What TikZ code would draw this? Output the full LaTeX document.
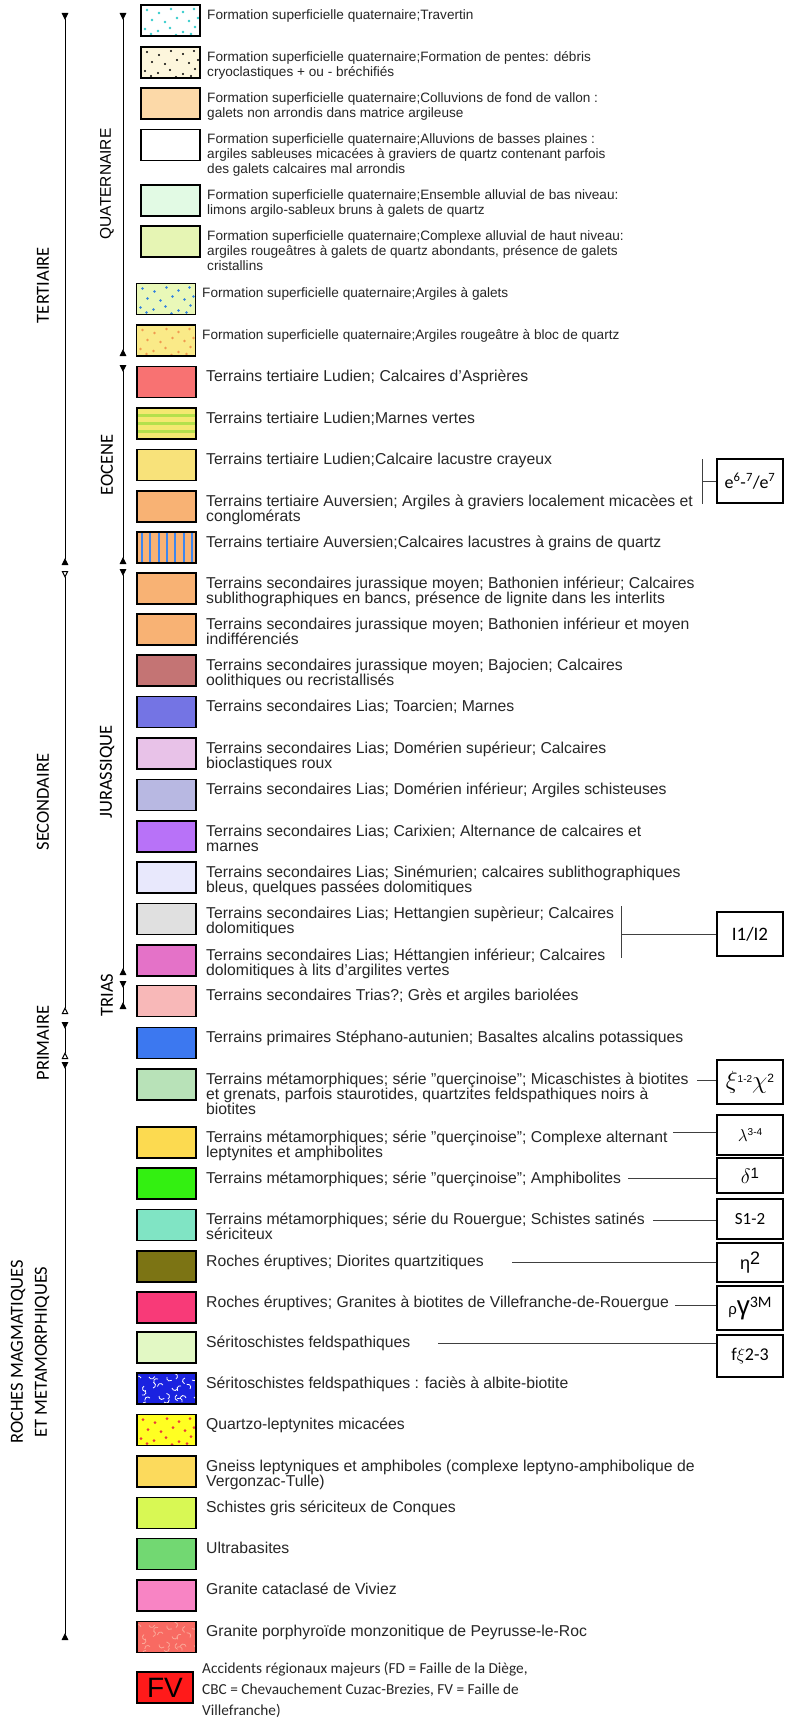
\documentclass[tikz,border=0pt]{standalone}
\usepackage{fontspec}
\setmainfont{Liberation Sans}
\newfontfamily\carlito{Carlito}
\usetikzlibrary{arrows.meta}

\definecolor{travdot}{HTML}{33CCCC}
\definecolor{pentebg}{HTML}{FDF6DC}
\definecolor{coll}{HTML}{FCD9A8}
\definecolor{basniv}{HTML}{E2FAE4}
\definecolor{hautniv}{HTML}{E6F5B4}
\definecolor{argalbg}{HTML}{E9F8B8}
\definecolor{argaldot}{HTML}{2F7FE0}
\definecolor{argroubg}{HTML}{FAEA88}
\definecolor{argroudot}{HTML}{F09A50}
\definecolor{aspr}{HTML}{F87272}
\definecolor{marnbg}{HTML}{F4E870}
\definecolor{marnline}{HTML}{B4E04C}
\definecolor{lacus}{HTML}{F8E27A}
\definecolor{auver}{HTML}{F8B274}
\definecolor{lacqline}{HTML}{3C86F0}
\definecolor{bajoc}{HTML}{C47474}
\definecolor{toarc}{HTML}{7474E4}
\definecolor{domsup}{HTML}{E8C2E8}
\definecolor{dominf}{HTML}{B8B8E2}
\definecolor{carix}{HTML}{B872F8}
\definecolor{sinem}{HTML}{E8E8FC}
\definecolor{hettsup}{HTML}{E0E0E0}
\definecolor{hettinf}{HTML}{E472C8}
\definecolor{trias}{HTML}{F8B8B8}
\definecolor{steph}{HTML}{3C78F0}
\definecolor{querc}{HTML}{B8E2B8}
\definecolor{compl}{HTML}{FCDA50}
\definecolor{amphi}{HTML}{33F011}
\definecolor{rouer}{HTML}{80E4C4}
\definecolor{dior}{HTML}{7C7414}
\definecolor{granv}{HTML}{F83A78}
\definecolor{serit}{HTML}{E2F8C4}
\definecolor{albite}{HTML}{1A22E0}
\definecolor{quartzbg}{HTML}{FFFF22}
\definecolor{quartzdot}{HTML}{E83A3A}
\definecolor{gneiss}{HTML}{FCDA5C}
\definecolor{schist}{HTML}{D8F854}
\definecolor{ultra}{HTML}{72D872}
\definecolor{catac}{HTML}{F884C4}
\definecolor{porph}{HTML}{F86A62}
\definecolor{porphline}{HTML}{FBA898}
\definecolor{fvred}{HTML}{FF1A1A}

\newcommand{\speckle}[3]{%
  \foreach \dx/\dy in {6/5,18/8,30/4,42/7,53/4,11/15,24/17,36/13,48/16,4/24,17/26,29/23,42/27,54/22,10/29,35/30,50/29,57/13}
    {\fill[#2] ([shift={(\dx,\dy)}]#1.north west) circle (#3);}}
\newcommand{\squiggle}[2]{%
  \foreach \dx/\dy/\a in {4/5/20,12/4/200,21/6/60,30/4/160,39/6/300,48/5/100,55/7/230,7/13/120,16/15/280,26/12/30,35/15/190,44/13/70,53/16/320,5/22/250,13/25/40,22/23/170,31/26/300,40/22/110,49/25/10,57/24/200,9/29/80,27/29/220,45/29/340}
    {\draw[#2, line width=0.8pt] ([shift={(\dx,\dy)}]#1.north west) arc[start angle=\a, delta angle=150, radius=3pt];}}

\begin{document}
\begin{tikzpicture}[x=1pt, y=-1pt,
  legbox/.style={draw, line width=1.6pt, minimum width=59pt, minimum height=31pt, inner sep=0pt},
  legtext/.style={anchor=north west, inner sep=0pt, align=left, text=black!85,
    font=\fontsize{15.75}{15}\selectfont, execute at begin node=\strut},
  quattext/.style={legtext, font=\fontsize{13.6}{15}\selectfont},
  erafont/.style={font=\carlito\fontsize{18.5}{24}\selectfont, rotate=90},
  eraline/.style={line width=1pt, {Triangle[reversed,length=7pt,width=6.5pt]}-{Triangle[reversed,length=7pt,width=6.5pt]}},
  eraopen/.style={line width=1pt, {Triangle[reversed,open,length=7pt,width=6.5pt]}-{Triangle[reversed,open,length=7pt,width=6.5pt]}},
  eramixed/.style={line width=1pt, {Triangle[reversed,length=7pt,width=6.5pt]}-{Triangle[reversed,open,length=7pt,width=6.5pt]}},
  symbox/.style={draw, line width=1.3pt, minimum width=66pt, inner sep=0pt},
  tie/.style={line width=0.8pt, black!75}]
    \useasboundingbox (0,0) rectangle (786,1720);

    \coordinate (tert_1) at (65,13);
    \coordinate (tert_2) at (65,565);
    \coordinate (seco_1) at (65,571);
    \coordinate (seco_2) at (65,1014);
    \coordinate (prim_1) at (65,1022);
    \coordinate (prim_2) at (65,1059);
    \coordinate (roch_1) at (65,1062);
    \coordinate (roch_2) at (65,1640);
    \coordinate (quat_1) at (123,13);
    \coordinate (quat_2) at (123,356);
    \coordinate (eoce_1) at (123,365);
    \coordinate (eoce_2) at (123,564);
    \coordinate (jura_1) at (123,569);
    \coordinate (jura_2) at (123,975);
    \coordinate (tria_1) at (123,981);
    \coordinate (tria_2) at (123,1009);
    \draw[eraline] (tert_1) -- (tert_2);
    \draw[eraopen] (seco_1) -- (seco_2);
    \draw[eramixed] (prim_1) -- (prim_2);
    \draw[eraline] (roch_1) -- (roch_2);
    \draw[eraline] (quat_1) -- (quat_2);
    \draw[eraline] (eoce_1) -- (eoce_2);
    \draw[eraline] (jura_1) -- (jura_2);
    \draw[eraline] (tria_1) -- (tria_2);

    \node[erafont] (tert) at (43,285) {TERTIAIRE};
    \node[erafont] (seco) at (43,802) {SECONDAIRE};
    \node[erafont] (prim) at (43,1043) {PRIMAIRE};
    \node[erafont, align=center] (roch) at (30,1352) {ROCHES MAGMATIQUES\\ET METAMORPHIQUES};
    \node[rotate=90, font=\fontsize{15.5}{18}\selectfont] (quat) at (107,184) {QUATERNAIRE};
    \node[erafont] (eoce) at (107,465) {EOCENE};
    \node[erafont] (jura) at (107,772) {JURASSIQUE};
    \node[erafont] (tria) at (107,995) {TRIAS};

    \node[legbox, fill=white, path picture={\speckle{path picture bounding box}{travdot}{1.3pt}}] (b_1) at (170.5,20.5) {};
    \node[legbox, fill=pentebg, path picture={\speckle{path picture bounding box}{black}{1.2pt}}] (b_2) at (170.5,62.5) {};
    \node[legbox, fill=coll] (b_3) at (170.5,103.5) {};
    \node[legbox, fill=white] (b_4) at (170.5,145) {};
    \node[legbox, fill=basniv] (b_5) at (170.5,200.5) {};
    \node[legbox, fill=hautniv] (b_6) at (170.5,241.5) {};
    \node[legbox, fill=argalbg, path picture={\speckle{path picture bounding box}{argaldot}{1.3pt}}] (b_7) at (166,299) {};
    \node[legbox, fill=argroubg, path picture={\speckle{path picture bounding box}{argroudot}{1.3pt}}] (b_8) at (166,340.5) {};
    \node[legbox, fill=aspr] (b_9) at (166.5,382) {};
    \node[legbox, fill=marnbg, path picture={
        \foreach \dy in {6,14,22}
          {\fill[marnline] ([yshift=-\dy pt]path picture bounding box.north west) rectangle ++(59,3);}}] (b_10) at (166.5,423.5) {};
    \node[legbox, fill=lacus] (b_11) at (166.5,465) {};
    \node[legbox, fill=auver] (b_12) at (166.5,506.5) {};
    \node[legbox, fill=auver, path picture={
        \foreach \dx in {5,13,22,30,38,47,55}
          {\draw[lacqline, line width=1.2pt] ([xshift=\dx pt]path picture bounding box.north west) -- ++(0,31);}}] (b_13) at (166.5,547.5) {};
    \node[legbox, fill=auver] (b_14) at (166.5,588.5) {};
    \node[legbox, fill=auver] (b_15) at (166.5,629.5) {};
    \node[legbox, fill=bajoc] (b_16) at (166.5,670.5) {};
    \node[legbox, fill=toarc] (b_17) at (166.5,712) {};
    \node[legbox, fill=domsup] (b_18) at (166.5,753.5) {};
    \node[legbox, fill=dominf] (b_19) at (166.5,795) {};
    \node[legbox, fill=carix] (b_20) at (166.5,836.5) {};
    \node[legbox, fill=sinem] (b_21) at (166.5,877.5) {};
    \node[legbox, fill=hettsup] (b_22) at (166.5,919) {};
    \node[legbox, fill=hettinf] (b_23) at (166.5,960.5) {};
    \node[legbox, fill=trias] (b_24) at (166.5,1001) {};
    \node[legbox, fill=steph] (b_25) at (166.5,1043) {};
    \node[legbox, fill=querc] (b_26) at (166.5,1084.5) {};
    \node[legbox, fill=compl] (b_27) at (166.5,1142.5) {};
    \node[legbox, fill=amphi] (b_28) at (166.5,1183.5) {};
    \node[legbox, fill=rouer] (b_29) at (166.5,1225) {};
    \node[legbox, fill=dior] (b_30) at (166.5,1266.5) {};
    \node[legbox, fill=granv] (b_31) at (166.5,1307.5) {};
    \node[legbox, fill=serit] (b_32) at (166.5,1347.5) {};
    \node[legbox, fill=albite, path picture={\squiggle{path picture bounding box}{white}}] (b_33) at (166.5,1388.5) {};
    \node[legbox, fill=quartzbg, path picture={\speckle{path picture bounding box}{quartzdot}{1.5pt}}] (b_34) at (166.5,1430) {};
    \node[legbox, fill=gneiss] (b_35) at (166.5,1471.5) {};
    \node[legbox, fill=schist] (b_36) at (166.5,1513) {};
    \node[legbox, fill=ultra] (b_37) at (166.5,1554) {};
    \node[legbox, fill=catac] (b_38) at (166.5,1595.5) {};
    \node[legbox, fill=porph, path picture={\squiggle{path picture bounding box}{porphline}}] (b_39) at (166.5,1637) {};
    \node[legbox, fill=fvred, minimum width=56pt, font=\fontsize{28}{28}\selectfont] (b_40) at (165,1687.5) {FV};

    \node[quattext] (t_1) at (207,9) {Formation superficielle quaternaire;Travertin};
    \node[quattext] (t_2) at (207,51) {Formation superficielle quaternaire;Formation de pentes: débris\\cryoclastiques + ou - bréchifiés};
    \node[quattext] (t_3) at (207,92) {Formation superficielle quaternaire;Colluvions de fond de vallon :\\galets non arrondis dans matrice argileuse};
    \node[quattext] (t_4) at (207,133) {Formation superficielle quaternaire;Alluvions de basses plaines :\\argiles sableuses micacées à graviers de quartz contenant parfois\\des galets calcaires mal arrondis};
    \node[quattext] (t_5) at (207,189) {Formation superficielle quaternaire;Ensemble alluvial de bas niveau:\\limons argilo-sableux bruns à galets de quartz};
    \node[quattext] (t_6) at (207,230) {Formation superficielle quaternaire;Complexe alluvial de haut niveau:\\argiles rougeâtres à galets de quartz abondants, présence de galets\\cristallins};
    \node[quattext] (t_7) at (202,287) {Formation superficielle quaternaire;Argiles à galets};
    \node[quattext] (t_8) at (202,329) {Formation superficielle quaternaire;Argiles rougeâtre à bloc de quartz};
    \node[legtext] (t_9) at (206,370) {Terrains tertiaire Ludien; Calcaires d'Asprières};
    \node[legtext] (t_10) at (206,412) {Terrains tertiaire Ludien;Marnes vertes};
    \node[legtext] (t_11) at (206,453) {Terrains tertiaire Ludien;Calcaire lacustre crayeux};
    \node[legtext] (t_12) at (206,495) {Terrains tertiaire Auversien; Argiles à graviers localement micacèes et\\conglomérats};
    \node[legtext] (t_13) at (206,536) {Terrains tertiaire Auversien;Calcaires lacustres à grains de quartz};
    \node[legtext] (t_14) at (206,577) {Terrains secondaires jurassique moyen; Bathonien inférieur; Calcaires\\sublithographiques en bancs, présence de lignite dans les interlits};
    \node[legtext] (t_15) at (206,618) {Terrains secondaires jurassique moyen; Bathonien inférieur et moyen\\indifférenciés};
    \node[legtext] (t_16) at (206,659) {Terrains secondaires jurassique moyen; Bajocien; Calcaires\\oolithiques ou recristallisés};
    \node[legtext] (t_17) at (206,700) {Terrains secondaires Lias; Toarcien; Marnes};
    \node[legtext] (t_18) at (206,742) {Terrains secondaires Lias; Domérien supérieur; Calcaires\\bioclastiques roux};
    \node[legtext] (t_19) at (206,783) {Terrains secondaires Lias; Domérien inférieur; Argiles schisteuses};
    \node[legtext] (t_20) at (206,825) {Terrains secondaires Lias; Carixien; Alternance de calcaires et\\marnes};
    \node[legtext] (t_21) at (206,866) {Terrains secondaires Lias; Sinémurien; calcaires sublithographiques\\bleus, quelques passées dolomitiques};
    \node[legtext] (t_22) at (206,907) {Terrains secondaires Lias; Hettangien supèrieur; Calcaires\\dolomitiques};
    \node[legtext] (t_23) at (206,949) {Terrains secondaires Lias; Héttangien inférieur; Calcaires\\dolomitiques à lits d'argilites vertes};
    \node[legtext] (t_24) at (206,989) {Terrains secondaires Trias?; Grès et argiles bariolées};
    \node[legtext] (t_25) at (206,1031) {Terrains primaires Stéphano-autunien; Basaltes alcalins potassiques};
    \node[legtext] (t_26) at (206,1073) {Terrains métamorphiques; série "querçinoise"; Micaschistes à biotites\\et grenats, parfois staurotides, quartzites feldspathiques noirs à\\biotites};
    \node[legtext] (t_27) at (206,1131) {Terrains métamorphiques; série "querçinoise"; Complexe alternant\\leptynites et amphibolites};
    \node[legtext] (t_28) at (206,1172) {Terrains métamorphiques; série "querçinoise"; Amphibolites};
    \node[legtext] (t_29) at (206,1213) {Terrains métamorphiques; série du Rouergue; Schistes satinés\\sériciteux};
    \node[legtext] (t_30) at (206,1255) {Roches éruptives; Diorites quartzitiques};
    \node[legtext] (t_31) at (206,1296) {Roches éruptives; Granites à biotites de Villefranche-de-Rouergue};
    \node[legtext] (t_32) at (206,1336) {Séritoschistes feldspathiques};
    \node[legtext] (t_33) at (206,1377) {Séritoschistes feldspathiques : faciès à albite-biotite};
    \node[legtext] (t_34) at (206,1418) {Quartzo-leptynites micacées};
    \node[legtext] (t_35) at (206,1460) {Gneiss leptyniques et amphiboles (complexe leptyno-amphibolique de\\Vergonzac-Tulle)};
    \node[legtext] (t_36) at (206,1501) {Schistes gris sériciteux de Conques};
    \node[legtext] (t_37) at (206,1542) {Ultrabasites};
    \node[legtext] (t_38) at (206,1583) {Granite cataclasé de Viviez};
    \node[legtext] (t_39) at (206,1625) {Granite porphyroïde monzonitique de Peyrusse-le-Roc};
    \node[legtext, font=\carlito\fontsize{15.3}{21}\selectfont] (t_40) at (202,1662) {Accidents régionaux majeurs (FD = Faille de la Diège,\\CBC = Chevauchement Cuzac-Brezies, FV = Faille de\\Villefranche)};

    \node[symbox, minimum height=44pt, font=\carlito\fontsize{18}{18}\selectfont] (s_e) at (750,481) {e\textsuperscript{6}-\textsuperscript{7}/e\textsuperscript{7}};
    \node[symbox, minimum height=44pt, font=\carlito\fontsize{19}{19}\selectfont] (s_I) at (750,934) {I1/I2};
    \node[symbox, minimum height=44pt] (s_xi) at (750,1082) {\fontsize{24}{24}\selectfont$\xi$\raisebox{6pt}{\fontsize{10}{10}\selectfont 1-2}$\chi$\raisebox{6pt}{\fontsize{12}{12}\selectfont 2}};
    \node[symbox, minimum height=40pt] (s_lam) at (750,1135) {\fontsize{19}{19}\selectfont$\lambda$\raisebox{6pt}{\fontsize{10}{10}\selectfont 3-4}};
    \node[symbox, minimum height=35pt] (s_del) at (750,1175.5) {\fontsize{22}{22}\selectfont$\delta$\raisebox{5pt}{\fontsize{15}{15}\selectfont 1}};
    \node[symbox, minimum height=40pt, font=\carlito\fontsize{17}{17}\selectfont] (s_S) at (750,1219) {S1-2};
    \node[symbox, minimum height=39pt] (s_eta) at (750,1262.5) {\fontsize{18}{18}\selectfont η\raisebox{5pt}{2}};
    \node[symbox, minimum height=44pt] (s_rho) at (750,1308) {\fontsize{15}{15}\selectfont ρ\fontsize{26}{26}\selectfont γ\raisebox{7pt}{\carlito\fontsize{16}{16}\selectfont 3M}};
    \node[symbox, minimum height=42pt, font=\carlito\fontsize{18}{18}\selectfont] (s_f) at (750,1356) {f$\xi$2-3};

    \coordinate (e_1) at (702,459);
    \coordinate (e_2) at (702,504);
    \draw[tie] (e_1) -- (e_2);
    \draw[tie] (s_e.west) -- (s_e.west -| e_1);
    \coordinate (i_1) at (621,906);
    \coordinate (i_2) at (621,958);
    \draw[tie] (i_1) -- (i_2);
    \draw[tie] (s_I.west) -- (s_I.west -| i_1);
    \coordinate (c_26) at (697,1080);
    \coordinate (c_27) at (673,1132);
    \coordinate (c_28) at (628,1178);
    \coordinate (c_29) at (653,1220);
    \coordinate (c_30) at (512,1262);
    \coordinate (c_31) at (675,1305);
    \coordinate (c_32) at (438,1343);
    \draw[tie] (c_26) -- (c_26 -| s_xi.west);
    \draw[tie] (c_27) -- (c_27 -| s_lam.west);
    \draw[tie] (c_28) -- (c_28 -| s_del.west);
    \draw[tie] (c_29) -- (c_29 -| s_S.west);
    \draw[tie] (c_30) -- (c_30 -| s_eta.west);
    \draw[tie] (c_31) -- (c_31 -| s_rho.west);
    \draw[tie] (c_32) -- (c_32 -| s_f.west);
\end{tikzpicture}
\end{document}
